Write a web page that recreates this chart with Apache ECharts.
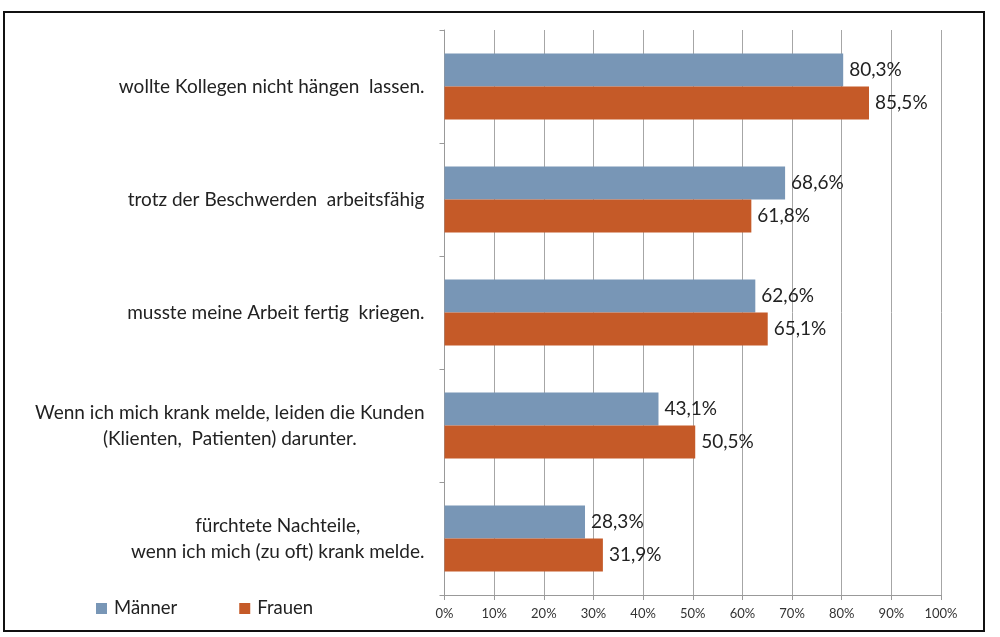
<!DOCTYPE html>
<html><head><meta charset="utf-8">
<script src="https://cdn.jsdelivr.net/npm/echarts@6/dist/echarts.min.js"></script>
<style>
html,body{margin:0;padding:0;background:#fff;}
#frame{position:absolute;left:3px;top:11px;width:982px;height:621px;border:2px solid #111;box-sizing:border-box;}
#c{position:absolute;left:0;top:0;width:1000px;height:637px;}
</style></head>
<body>
<div id="frame"></div>
<div id="c"></div>
<script>
var categories = [
  'wollte Kollegen nicht hängen  lassen.',
  'trotz der Beschwerden  arbeitsfähig',
  'musste meine Arbeit fertig  kriegen.',
  'Wenn ich mich krank melde, leiden die Kunden\n(Klienten,  Patienten) darunter.',
  'fürchtete Nachteile,\nwenn ich mich (zu oft) krank melde.'
];
var maenner = [80.3, 68.6, 62.6, 43.1, 28.3];
var frauen = [85.5, 61.8, 65.1, 50.5, 31.9];
var xTicks = [0, 10, 20, 30, 40, 50, 60, 70, 80, 90, 100];

var FONT = 'Lato, "Open Sans", sans-serif';
var chart = echarts.init(document.getElementById('c'));
function fmtPct(v){ return v.toFixed(1).replace('.', ',') + '%'; }
chart.setOption({
  animation: false,
  grid: {left: 444.5, right: 59, top: 30, bottom: 42, containLabel: false},
  legend: {
    left: 91, top: 594, itemWidth: 11, itemHeight: 11, itemGap: 62,
    icon: 'rect',
    textStyle: {fontFamily: FONT, fontSize: 18.5, color: '#222', padding: [0,0,0,2]},
    data: ['Männer', 'Frauen']
  },
  xAxis: {
    type: 'value', min: 0, max: 100, interval: 10,
    axisLine: {show: true, lineStyle: {color: '#999', width: 1}},
    axisTick: {show: true, length: 5, lineStyle: {color: '#999'}},
    splitLine: {show: true, lineStyle: {color: '#a6a6a6', width: 1}},
    axisLabel: {
      fontFamily: FONT, fontSize: 13, color: '#333', margin: 12,
      formatter: function(v){ return xTicks.indexOf(v) >= 0 ? v + '%' : ''; }
    }
  },
  yAxis: {
    type: 'category', inverse: true, data: categories,
    axisLine: {show: true, lineStyle: {color: '#999'}},
    axisTick: {show: true, length: 5, lineStyle: {color: '#999'}},
    axisLabel: {
      fontFamily: FONT, fontSize: 19, color: '#222', margin: 20, lineHeight: 26,
      formatter: function(v){
        return v.split('\n').map(function(l){ return '{c|' + l + '}'; }).join('\n');
      },
      rich: {c: {align: 'center', fontFamily: FONT, fontSize: 19, color: '#222', lineHeight: 26}}
    }
  },
  series: [
    {
      name: 'Männer', type: 'bar', data: maenner, barGap: '0%', barCategoryGap: '41.5%',
      itemStyle: {color: '#7896B6'},
      label: {show: true, position: 'right', distance: 6, fontFamily: FONT, fontSize: 19, color: '#222',
        formatter: function(p){ return fmtPct(p.value); }}
    },
    {
      name: 'Frauen', type: 'bar', data: frauen, barGap: '0%', barCategoryGap: '41.5%',
      itemStyle: {color: '#C55A28'},
      label: {show: true, position: 'right', distance: 6, fontFamily: FONT, fontSize: 19, color: '#222',
        formatter: function(p){ return fmtPct(p.value); }}
    }
  ]
});
</script>
</body></html>
